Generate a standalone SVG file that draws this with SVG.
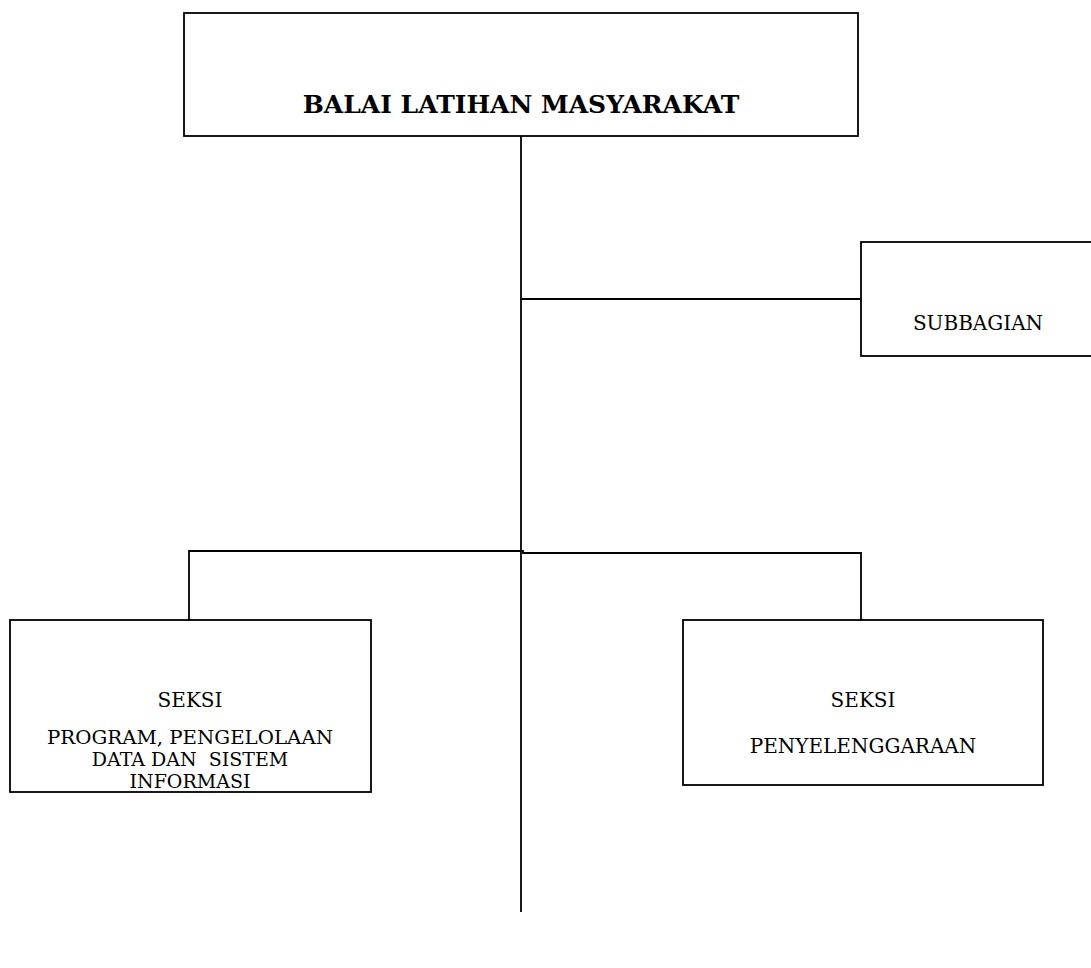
<svg xmlns="http://www.w3.org/2000/svg" width="1091" height="968" viewBox="0 0 1091 968">
<style>
.box{fill:#fff;stroke:#000;stroke-width:1.8}
.ln{fill:none;stroke:#000;stroke-width:1.8}
.t{font-family:"DejaVu Serif","Liberation Serif",serif;font-size:20px;fill:#000;text-anchor:middle}
.ts{font-family:"DejaVu Serif","Liberation Serif",serif;font-size:19px;fill:#000;text-anchor:middle}
.tb{font-family:"DejaVu Serif","Liberation Serif",serif;font-size:25px;font-weight:bold;fill:#000;text-anchor:middle}
</style>
<rect width="1091" height="968" fill="#fff"/>
<g id="connectors">
<path class="ln" d="M521 136 V912"/>
<path class="ln" d="M521 299 H861"/>
<path class="ln" d="M189 620 V551 H523 V553 H861 V620"/>
</g>
<g id="balai">
<rect class="box" x="184" y="13" width="674" height="123"/>
<text class="tb" x="521" y="113">BALAI LATIHAN MASYARAKAT</text>
</g>
<g id="subbagian">
<rect class="box" x="861" y="242" width="240" height="114"/>
<text class="t" x="978" y="330">SUBBAGIAN</text>
</g>
<g id="seksi-program">
<rect class="box" x="10" y="620" width="361" height="172"/>
<text class="t" x="190" y="707">SEKSI</text>
<text class="ts" x="190" y="744" textLength="286" lengthAdjust="spacingAndGlyphs">PROGRAM, PENGELOLAAN</text>
<text class="ts" x="190" y="766" xml:space="preserve">DATA DAN  SISTEM</text>
<text class="ts" x="190" y="788">INFORMASI</text>
</g>
<g id="seksi-penyelenggaraan">
<rect class="box" x="683" y="620" width="360" height="165"/>
<text class="t" x="863" y="707">SEKSI</text>
<text class="t" x="863" y="753">PENYELENGGARAAN</text>
</g>
</svg>
